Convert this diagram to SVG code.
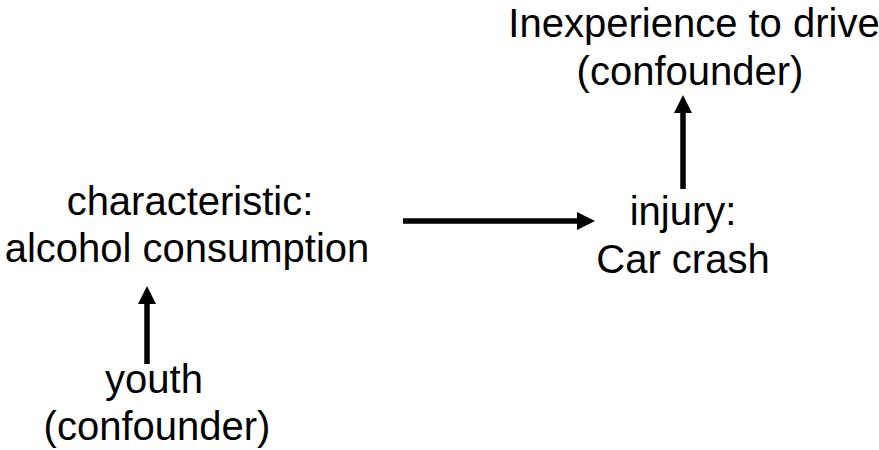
<svg xmlns="http://www.w3.org/2000/svg" width="879" height="450" viewBox="0 0 879 450">
  <style>
    .label { font-family: "Liberation Sans", Arial, sans-serif; font-size: 40px; fill: #000; text-anchor: middle; }
    .shaft { stroke: #000; stroke-width: 5.5; fill: none; }
  </style>
  <defs>
    <marker id="head" markerUnits="userSpaceOnUse" markerWidth="18" markerHeight="18" viewBox="0 0 18 18" refX="0" refY="9" orient="auto">
      <path d="M0,0 L18,9 L0,18 Z" fill="#000"/>
    </marker>
  </defs>
  <rect width="879" height="450" fill="#fff"/>

  <g id="connectors">
    <path class="shaft" d="M403,221 H577" marker-end="url(#head)"/>
    <path class="shaft" d="M683,189 V113" marker-end="url(#head)"/>
    <path class="shaft" d="M147,364 V304" marker-end="url(#head)"/>
  </g>

  <g id="inexperience">
    <text class="label" x="694" y="37">Inexperience to drive</text>
    <text class="label" x="690" y="85">(confounder)</text>
  </g>
  <g id="alcohol">
    <text class="label" x="190" y="215">characteristic:</text>
    <text class="label" x="187" y="262">alcohol consumption</text>
  </g>
  <g id="injury">
    <text class="label" x="683" y="225">injury:</text>
    <text class="label" x="683" y="273">Car crash</text>
  </g>
  <g id="youth">
    <text class="label" x="154" y="393">youth</text>
    <text class="label" x="157" y="440">(confounder)</text>
  </g>
</svg>
